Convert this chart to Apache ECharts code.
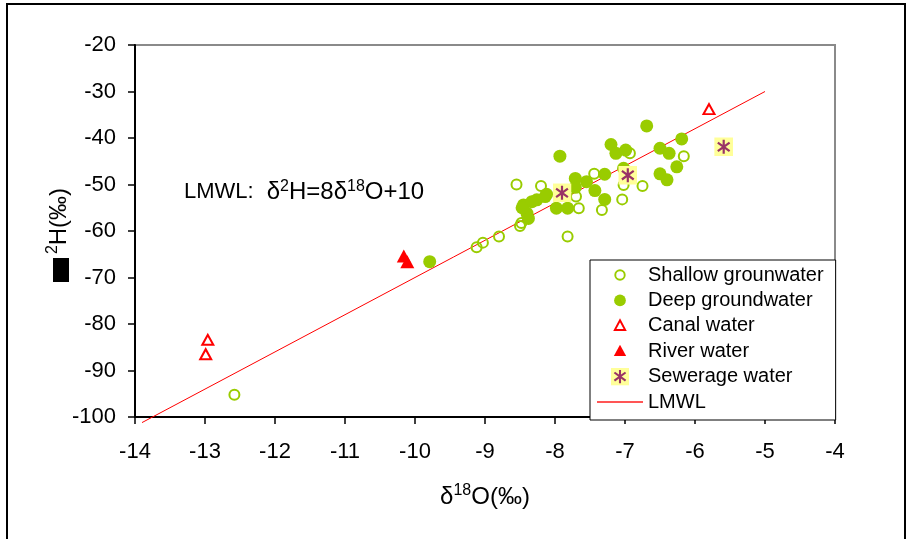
<!DOCTYPE html>
<html>
<head>
<meta charset="utf-8">
<script src="https://cdn.jsdelivr.net/npm/echarts@6/dist/echarts.min.js"></script>
<style>
  html, body { margin: 0; padding: 0; background: #fff; }
  #chart { width: 908px; height: 539px; }
</style>
</head>
<body>
<div id="chart"></div>
<script>
// δ18O (x) and δ2H (y) values, ‰
const shallowX = [-12.58, -9.12, -9.03, -8.80, -8.50, -8.48, -8.55, -8.20, -7.70, -7.66, -7.82, -7.44, -7.33, -7.04, -7.02, -6.75, -6.93, -6.16];
const shallowY = [-95.2, -63.5, -62.5, -61.2, -58.9, -58.3, -50.0, -50.3, -52.6, -55.1, -61.2, -47.7, -55.5, -53.2, -50.1, -50.3, -43.3, -43.9];

const deepX = [-9.79, -6.69, -7.20, -7.93, -7.13, -6.99, -6.50, -6.37, -6.19, -6.26, -6.50, -6.40, -7.02, -7.29, -7.55, -7.71, -7.71, -7.43, -7.29, -7.98, -7.82, -8.14, -8.26, -8.45, -8.33, -8.40, -8.38, -8.12, -8.47];
const deepY = [-66.6, -37.4, -41.4, -43.9, -43.3, -42.6, -42.2, -43.3, -40.2, -46.2, -47.7, -49.0, -46.5, -47.8, -49.4, -48.7, -50.6, -51.3, -53.2, -55.1, -55.1, -52.6, -53.3, -54.4, -53.7, -56.2, -57.3, -52.1, -55.0];

const canalX = [-12.96, -12.99, -5.80];
const canalY = [-83.4, -86.5, -33.8];

const riverX = [-10.16, -10.11];
const riverY = [-65.4, -66.6];

const sewerX = [-7.90, -6.96, -5.59];
const sewerY = [-51.8, -48.0, -41.9];

// LMWL: δ2H = 8δ18O + 10, end points
const lmwlX = [-13.9, -5.0];
const lmwlY = [-101.2, -30.0];

const seriesNames = ['Shallow grounwater', 'Deep groundwater', 'Canal water', 'River water', 'Sewerage water', 'LMWL'];

const GREEN = '#99cc00';
const RED = '#ff0000';
const PURPLE = '#993366';
const YELLOW = '#ffff99';
const FONT = 'Liberation Sans, Arial, sans-serif';

const zip = (xs, ys) => xs.map((x, i) => [x, ys[i]]);
const svgUrl = (body, w, h) => 'image://data:image/svg+xml;charset=utf-8,' +
  encodeURIComponent("<svg xmlns='http://www.w3.org/2000/svg' width='" + (w || 19) + "' height='" + (h || 19) +
    "' viewBox='0 0 " + (w || 19) + " " + (h || 19) + "'>" + body + "</svg>");

const asterisk = "<path d='M9.5 2.5V16.5M3.6 5.2L15.4 13.8M3.6 13.8L15.4 5.2' stroke='" + PURPLE + "' stroke-width='2.2' fill='none'/>";
const sewerIcon = svgUrl("<rect x='0' y='0' width='19' height='19' fill='" + YELLOW + "'/>" + asterisk);

const legendIcons = [
  svgUrl("<circle cx='9.5' cy='9.5' r='5' fill='none' stroke='" + GREEN + "' stroke-width='2'/>"),
  svgUrl("<circle cx='9.5' cy='9.5' r='6.2' fill='" + GREEN + "'/>"),
  svgUrl("<path d='M9.5 3.6L15 14L4 14Z' fill='none' stroke='" + RED + "' stroke-width='2'/>"),
  svgUrl("<path d='M9.5 2.8L16 14.6L3 14.6Z' fill='" + RED + "'/>"),
  sewerIcon,
  svgUrl("<line x1='0' y1='9' x2='46' y2='9' stroke='#ff5555' stroke-width='2'/>", 46, 18)
];

const chart = echarts.init(document.getElementById('chart'), null, { renderer: 'canvas' });

chart.setOption({
  animation: false,
  backgroundColor: '#fff',
  grid: {
    left: 135, right: 73, top: 45, bottom: 122,
    show: true, borderColor: '#8a8a8a', borderWidth: 2, backgroundColor: '#fff'
  },
  xAxis: {
    type: 'value', min: -14, max: -4, interval: 1,
    axisLine: { show: true, onZero: false, lineStyle: { color: '#000', width: 2 } },
    axisTick: { show: true, inside: false, length: 7, lineStyle: { color: '#000', width: 1.5 } },
    splitLine: { show: false },
    axisLabel: { margin: 24, fontSize: 22, fontFamily: FONT, color: '#000' },
    name: '{d|δ}{s|18}{t|O(‰)}',
    nameLocation: 'middle',
    nameGap: 66,
    nameTextStyle: {
      rich: {
        d: { fontSize: 24, fontFamily: FONT, color: '#000', lineHeight: 28 },
        s: { fontSize: 16, fontFamily: FONT, color: '#000', lineHeight: 16, verticalAlign: 'top' },
        t: { fontSize: 24, fontFamily: FONT, color: '#000', lineHeight: 28 }
      }
    }
  },
  yAxis: {
    type: 'value', min: -100, max: -20, interval: 10,
    axisLine: { show: true, onZero: false, lineStyle: { color: '#000', width: 2 } },
    axisTick: { show: true, inside: false, length: 7, lineStyle: { color: '#000', width: 1.5 } },
    splitLine: { show: false },
    axisLabel: { margin: 19, fontSize: 22, fontFamily: FONT, color: '#000' }
  },
  legend: {
    orient: 'vertical',
    left: 590, top: 260,
    padding: [5, 12, 8, 7],
    itemWidth: 46, itemHeight: 18, itemGap: 5.4,
    backgroundColor: '#fff', borderColor: '#000', borderWidth: 1,
    selectedMode: false,
    textStyle: { fontFamily: FONT, fontSize: 20, color: '#000' },
    data: seriesNames.map((n, i) => ({ name: n, icon: legendIcons[i] }))
  },
  series: [
    {
      name: seriesNames[5], type: 'line', data: zip(lmwlX, lmwlY),
      symbol: 'none', clip: false, z: 1,
      itemStyle: { color: RED },
      lineStyle: { color: RED, width: 1 }
    },
    {
      name: seriesNames[0], type: 'scatter', data: zip(shallowX, shallowY), z: 2,
      symbol: 'circle', symbolSize: 10,
      itemStyle: { color: 'rgba(0,0,0,0)', borderColor: GREEN, borderWidth: 2, opacity: 1 }
    },
    {
      name: seriesNames[1], type: 'scatter', data: zip(deepX, deepY), z: 3,
      symbol: 'circle', symbolSize: 13,
      itemStyle: { color: GREEN, opacity: 1 }
    },
    {
      name: seriesNames[2], type: 'scatter', data: zip(canalX, canalY), z: 4,
      symbol: 'triangle', symbolSize: [11, 10],
      itemStyle: { color: '#fff', borderColor: RED, borderWidth: 2, opacity: 1 }
    },
    {
      name: seriesNames[3], type: 'scatter', data: zip(riverX, riverY), z: 4,
      symbol: 'triangle', symbolSize: [14, 13],
      itemStyle: { color: RED, opacity: 1 }
    },
    {
      name: seriesNames[4], type: 'scatter', data: zip(sewerX, sewerY), z: 5,
      symbol: sewerIcon, symbolSize: 19,
      itemStyle: { opacity: 1 }
    }
  ],
  graphic: [
    {
      type: 'rect', z: 100, silent: true,
      shape: { x: 7, y: 4, width: 898, height: 560 },
      style: { fill: 'none', stroke: '#000', lineWidth: 2 }
    },
    {
      type: 'text', z: 100, left: 184, top: 179,
      style: {
        text: '{a|LMWL:}{b|δ}{s|2}{b|H=8δ}{s|18}{b|O+10}',
        rich: {
          a: { fontSize: 22, fontFamily: FONT, fill: '#000', lineHeight: 26, padding: [0, 13, 0, 0] },
          b: { fontSize: 24, fontFamily: FONT, fill: '#000', lineHeight: 26 },
          s: { fontSize: 16, fontFamily: FONT, fill: '#000', verticalAlign: 'top', lineHeight: 16 }
        }
      }
    },
    {
      type: 'rect', z: 100, silent: true,
      shape: { x: 53, y: 258, width: 16, height: 24 },
      style: { fill: '#000' }
    },
    {
      type: 'text', z: 100, x: 59, y: 221, rotation: Math.PI / 2,
      style: {
        text: '{s|2}{m|H(‰)}',
        align: 'center', verticalAlign: 'middle',
        rich: {
          s: { fontSize: 16, fontFamily: FONT, fill: '#000', verticalAlign: 'top', lineHeight: 16 },
          m: { fontSize: 24, fontFamily: FONT, fill: '#000', lineHeight: 28 }
        }
      }
    }
  ]
});
</script>
</body>
</html>
